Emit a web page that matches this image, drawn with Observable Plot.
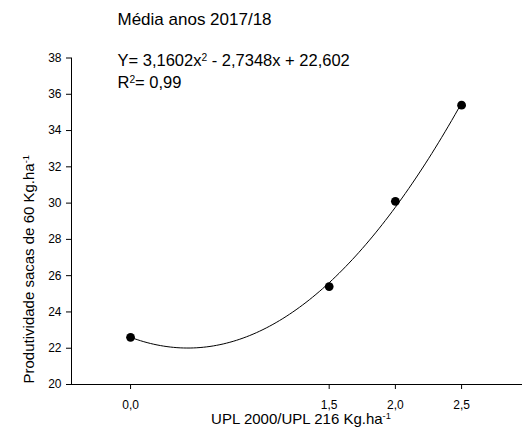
<!DOCTYPE html>
<html>
<head>
<meta charset="utf-8">
<script src="https://cdn.jsdelivr.net/npm/d3@7"></script>
<script src="https://cdn.jsdelivr.net/npm/@observablehq/plot@0.6"></script>
<style>
  html, body { margin: 0; padding: 0; background: #fff; }
  svg text { font-family: "Liberation Sans", Arial, sans-serif; }
</style>
</head>
<body>
<div id="chart"></div>
<script>
// Data
const doses = [0.0, 1.5, 2.0, 2.5];
const yields = [22.6, 25.4, 30.1, 35.4];
// Fitted equation printed on the chart: Y = a x^2 + b x + c
const coefA = [3.1602];
const coefB = [-2.7348];
const coefC = [22.602];
const xTicks = [0.0, 1.5, 2.0, 2.5];
const yTicks = [20, 22, 24, 26, 28, 30, 32, 34, 36, 38];
const titleText = ["Média anos 2017/18"];
const eqText = ["Y= 3,1602x^{2} - 2,7348x + 22,602"];
const r2Text = ["R^{2}= 0,99"];
const xLabel = ["UPL 2000/UPL 216 Kg.ha^{-1}"];
const yLabel = ["Produtividade sacas de 60 Kg.ha^{-1}"];

const points = doses.map((d, i) => ({x: d, y: yields[i]}));
const fit = d3.range(0, 2.5001, 0.025).map(x => ({x, y: coefA[0]*x*x + coefB[0]*x + coefC[0]}));

const xMin = -0.446, xMax = 2.96;
const fmt = d => d.toFixed(1).replace(".", ",");

const plot = Plot.plot({
  width: 522,
  height: 439,
  marginLeft: 71,
  marginRight: 0,
  marginTop: 57.5,
  marginBottom: 55,
  style: {fontFamily: "Liberation Sans, Arial, sans-serif", background: "white"},
  x: {domain: [xMin, xMax]},
  y: {domain: [20, 38]},
  marks: [
    Plot.axisX({ticks: xTicks, tickFormat: fmt, tickSize: 5, tickPadding: 11, fontSize: 12, label: null, stroke: "#000", color: "#000"}),
    Plot.axisY({ticks: yTicks, tickSize: 5, tickPadding: 5, fontSize: 12, label: null, stroke: "#000", color: "#000"}),
    Plot.ruleY([20], {stroke: "#000", strokeWidth: 1}),
    Plot.ruleX([xMin], {stroke: "#000", strokeWidth: 1}),
    Plot.line(fit, {x: "x", y: "y", stroke: "#000", strokeWidth: 1}),
    Plot.dot(points, {x: "x", y: "y", r: 4.4, fill: "#000", stroke: "none"}),
    Plot.text(titleText, {frameAnchor: "top-left", text: d => d, dx: 46, dy: -33.5, fontSize: 17, textAnchor: "start", lineAnchor: "bottom", fill: "#000"}),
    Plot.text(eqText, {frameAnchor: "top-left", text: d => d, dx: 46, dy: 7.5, fontSize: 16.5, textAnchor: "start", lineAnchor: "bottom", fill: "#000"}),
    Plot.text(r2Text, {frameAnchor: "top-left", text: d => d, dx: 46, dy: 29.5, fontSize: 16.5, textAnchor: "start", lineAnchor: "bottom", fill: "#000"}),
    Plot.text(xLabel, {frameAnchor: "bottom", text: d => d, dx: 4, dy: 39, fontSize: 15, textAnchor: "middle", lineAnchor: "bottom", fill: "#000"}),
    Plot.text(yLabel, {frameAnchor: "left", text: d => d, dx: -38, dy: 48, rotate: -90, fontSize: 15, textAnchor: "middle", lineAnchor: "bottom", fill: "#000"})
  ]
});

// Turn ^{...} markers into real superscript tspans
plot.querySelectorAll("text").forEach(t => {
  const s = t.textContent;
  if (!s.includes("^{")) return;
  const parts = s.split(/(\^\{[^}]*\})/);
  while (t.firstChild) t.removeChild(t.firstChild);
  parts.forEach(p => {
    if (!p) return;
    const ts = document.createElementNS("http://www.w3.org/2000/svg", "tspan");
    if (p.startsWith("^{")) {
      ts.textContent = p.slice(2, -1);
      ts.setAttribute("baseline-shift", "super");
      ts.setAttribute("font-size", "0.62em");
    } else {
      ts.textContent = p;
    }
    t.appendChild(ts);
  });
});

document.getElementById("chart").appendChild(plot);
</script>
</body>
</html>
